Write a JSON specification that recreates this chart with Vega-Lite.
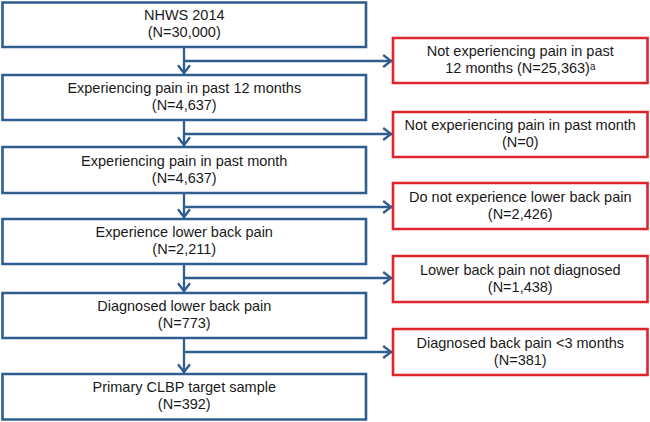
{
  "$schema": "https://vega.github.io/schema/vega-lite/v6.json",
  "width": 650,
  "height": 422,
  "padding": 0,
  "autosize": {"type": "none"},
  "background": "white",
  "config": {"view": {"stroke": null}},
  "datasets": {
    "boxes": [
      {"group": "flow", "x1": 2.5, "x2": 366, "y1": 2.5, "y2": 47, "label": "NHWS 2014\n(N=30,000)"},
      {"group": "flow", "x1": 2.5, "x2": 366, "y1": 75, "y2": 120, "label": "Experiencing pain in past 12 months\n(N=4,637)"},
      {"group": "flow", "x1": 2.5, "x2": 366, "y1": 147, "y2": 193, "label": "Experiencing pain in past month\n(N=4,637)"},
      {"group": "flow", "x1": 2.5, "x2": 366, "y1": 219, "y2": 264, "label": "Experience lower back pain\n(N=2,211)"},
      {"group": "flow", "x1": 2.5, "x2": 366, "y1": 293, "y2": 338, "label": "Diagnosed lower back pain\n(N=773)"},
      {"group": "flow", "x1": 2.5, "x2": 366, "y1": 374, "y2": 419.5, "label": "Primary CLBP target sample\n(N=392)"},
      {"group": "excluded", "x1": 393, "x2": 647.5, "y1": 38, "y2": 83, "label": "Not experiencing pain in past\n12 months (N=25,363)ᵃ"},
      {"group": "excluded", "x1": 393, "x2": 647.5, "y1": 112, "y2": 157, "label": "Not experiencing pain in past month\n(N=0)"},
      {"group": "excluded", "x1": 393, "x2": 647.5, "y1": 183, "y2": 229, "label": "Do not experience lower back pain\n(N=2,426)"},
      {"group": "excluded", "x1": 393, "x2": 647.5, "y1": 256, "y2": 302, "label": "Lower back pain not diagnosed\n(N=1,438)"},
      {"group": "excluded", "x1": 393, "x2": 647.5, "y1": 329, "y2": 375, "label": "Diagnosed back pain <3 months\n(N=381)"}
    ],
    "links": [
      {"x1": 184, "x2": 184, "y1": 47, "y2": 74},
      {"x1": 184, "x2": 184, "y1": 120, "y2": 146},
      {"x1": 184, "x2": 184, "y1": 193, "y2": 218},
      {"x1": 184, "x2": 184, "y1": 264, "y2": 292},
      {"x1": 184, "x2": 184, "y1": 338, "y2": 373},
      {"x1": 184, "x2": 392, "y1": 61, "y2": 61},
      {"x1": 184, "x2": 392, "y1": 134, "y2": 134},
      {"x1": 184, "x2": 392, "y1": 207, "y2": 207},
      {"x1": 184, "x2": 392, "y1": 278, "y2": 278},
      {"x1": 184, "x2": 392, "y1": 352, "y2": 352}
    ],
    "heads": [
      {"dir": "down", "x": 184, "y": 73},
      {"dir": "down", "x": 184, "y": 145},
      {"dir": "down", "x": 184, "y": 217},
      {"dir": "down", "x": 184, "y": 291},
      {"dir": "down", "x": 184, "y": 372},
      {"dir": "right", "x": 391, "y": 61},
      {"dir": "right", "x": 391, "y": 134},
      {"dir": "right", "x": 391, "y": 207},
      {"dir": "right", "x": 391, "y": 278},
      {"dir": "right", "x": 391, "y": 352}
    ]
  },
  "layer": [
    {
      "data": {"name": "links"},
      "mark": {"type": "rule", "strokeWidth": 2.3, "color": "#2f5d8f"},
      "encoding": {
        "x": {"field": "x1", "type": "quantitative", "scale": {"domain": [0, 650], "nice": false, "zero": false}, "axis": null},
        "x2": {"field": "x2"},
        "y": {"field": "y1", "type": "quantitative", "scale": {"domain": [0, 422], "nice": false, "zero": false, "reverse": true}, "axis": null},
        "y2": {"field": "y2"}
      }
    },
    {
      "data": {"name": "heads"},
      "mark": {"type": "point", "filled": false, "strokeWidth": 2.3, "color": "#2f5d8f", "opacity": 1, "size": 144, "strokeJoin": "miter"},
      "encoding": {
        "x": {"field": "x", "type": "quantitative", "scale": {"domain": [0, 650], "nice": false, "zero": false}, "axis": null},
        "y": {"field": "y", "type": "quantitative", "scale": {"domain": [0, 422], "nice": false, "zero": false, "reverse": true}, "axis": null},
        "shape": {"field": "dir", "type": "nominal", "scale": {"domain": ["right", "down"], "range": ["M-1.3,-1L0,0L-1.3,1", "M-1,-1.3L0,0L1,-1.3"]}, "legend": null}
      }
    },
    {
      "data": {"name": "boxes"},
      "mark": {"type": "rect", "fill": "white", "strokeWidth": 2.6},
      "encoding": {
        "x": {"field": "x1", "type": "quantitative", "scale": {"domain": [0, 650], "nice": false, "zero": false}, "axis": null},
        "x2": {"field": "x2"},
        "y": {"field": "y1", "type": "quantitative", "scale": {"domain": [0, 422], "nice": false, "zero": false, "reverse": true}, "axis": null},
        "y2": {"field": "y2"},
        "stroke": {"field": "group", "type": "nominal", "scale": {"domain": ["flow", "excluded"], "range": ["#2f5d8f", "#e0242c"]}, "legend": null}
      }
    },
    {
      "data": {"name": "boxes"},
      "transform": [
        {"calculate": "(datum.x1 + datum.x2) / 2", "as": "cx"},
        {"calculate": "(datum.y1 + datum.y2) / 2", "as": "cy"}
      ],
      "mark": {"type": "text", "font": "Liberation Sans", "fontSize": 14.5, "lineBreak": "\n", "lineHeight": 17, "align": "center", "baseline": "middle", "dy": -8.5, "color": "#1a1a1a"},
      "encoding": {
        "x": {"field": "cx", "type": "quantitative", "scale": {"domain": [0, 650], "nice": false, "zero": false}, "axis": null},
        "y": {"field": "cy", "type": "quantitative", "scale": {"domain": [0, 422], "nice": false, "zero": false, "reverse": true}, "axis": null},
        "text": {"field": "label"}
      }
    }
  ]
}
